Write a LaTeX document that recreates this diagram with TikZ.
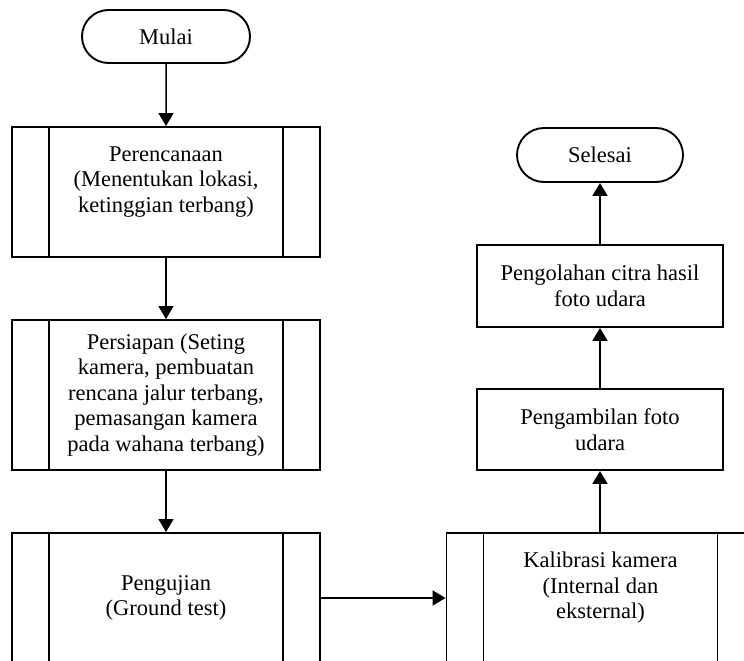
\documentclass[tikz,border=0pt]{standalone}
\usepackage{fontspec}
\setmainfont{Liberation Serif}
\usetikzlibrary{shapes.misc,arrows.meta}
\tikzset{
  base/.style={draw, line width=1.9pt, align=center, inner sep=0pt,
    font=\fontsize{22.5pt}{25.5pt}\selectfont},
  term/.style={base, rounded rectangle, minimum height=53pt},
  procbox/.style={base, rectangle, minimum width=246pt},
  subproc/.style={base, rectangle, minimum width=308pt,
    path picture={\draw[line width=1.9pt]
      ([xshift=37pt]path picture bounding box.north west) -- ([xshift=37pt]path picture bounding box.south west)
      ([xshift=-37pt]path picture bounding box.north east) -- ([xshift=-37pt]path picture bounding box.south east);}},
  flow/.style={-{Triangle[length=13pt,width=15pt]}, line width=1.5pt},
  flowR/.style={-{Triangle[length=13pt,width=15pt]}, line width=2.2pt}
}
\begin{document}
\begin{tikzpicture}[x=1pt,y=-1pt]
\useasboundingbox (0,0) rectangle (744,661);
\clip (0,0) rectangle (744,661);
\fill[white] (0,0) rectangle (744,661);
\node[term, minimum width=168pt] (mulai) at (166,36.5) {Mulai};
\node[subproc, minimum height=130pt] (p1) at (166,192) {Perencanaan\\(Menentukan lokasi,\\ketinggian terbang)\\\mbox{}};
\node[subproc, minimum height=150pt] (p2) at (166,395) {Persiapan (Seting\\kamera, pembuatan\\rencana jalur terbang,\\pemasangan kamera\\pada wahana terbang)};
\node[subproc, minimum height=130pt] (p3) at (166,598) {Pengujian\\(Ground test)};
\node[subproc, minimum height=130pt] (p4) at (600.5,598) {Kalibrasi kamera\\(Internal dan\\eksternal)\\\mbox{}};
\node[procbox, minimum height=81pt] (p5) at (600,429.5) {Pengambilan foto\\udara};
\node[procbox, minimum height=82pt] (p6) at (600,286) {Pengolahan citra hasil\\foto udara};
\node[term, minimum width=166pt, minimum height=54pt] (selesai) at (600,155) {Selesai};
\draw[flow] (mulai) -- (p1);
\draw[flow] (p1) -- (p2);
\draw[flow] (p2) -- (p3);
\draw[flow] (p3) -- (p4);
\draw[flowR] (p4.north -| p5.south) -- (p5.south);
\draw[flowR] (p5) -- (p6);
\draw[flowR] (p6) -- (selesai);
\end{tikzpicture}
\end{document}
